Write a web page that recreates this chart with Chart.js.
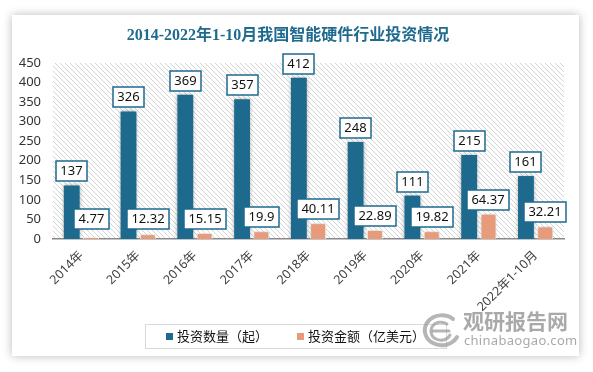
<!DOCTYPE html>
<html>
<head>
<meta charset="utf-8">
<script src="https://cdn.jsdelivr.net/npm/chart.js@4.4.0/dist/chart.umd.min.js"></script>
<style>
body{margin:0;background:#fff;width:593px;height:372px;overflow:hidden}
#card{position:absolute;left:12px;top:15px;width:567px;height:341px;background:#fff;box-shadow:0 0 9px rgba(0,0,0,0.28)}
#chart{position:absolute;left:0;top:0}
.wm{position:absolute;color:rgba(140,140,140,0.75);font-family:"Noto Sans CJK SC",sans-serif;white-space:nowrap}
#wm1{left:451px;top:295px;font-size:21px;line-height:21px;font-weight:bold;letter-spacing:0}
#wm2{left:452px;top:318px;font-size:13px;line-height:14px;font-family:"Noto Sans",sans-serif;letter-spacing:0.3px}
#logo{position:absolute;left:407px;top:296px}
</style>
</head>
<body>
<div id="card">
<canvas id="chart" width="567" height="341"></canvas>
<svg id="logo" width="44" height="40" viewBox="0 0 44 40">
<g fill="none" stroke="rgba(150,150,150,0.7)" stroke-linecap="round">
<path d="M34 8 A17 15 0 1 0 38 26" stroke-width="4"/>
<path d="M28 13 A10 9 0 1 0 31 24" stroke-width="3"/>
<path d="M14 20 L30 20" stroke-width="3"/>
</g>
</svg>
<div class="wm" id="wm1">观研报告网</div>
<div class="wm" id="wm2">chinabaogao.com</div>
</div>
<script>
const years=["2014年","2015年","2016年","2017年","2018年","2019年","2020年","2021年","2022年1-10月"];
const dealCount=[137,326,369,357,412,248,111,215,161];
const dealAmount=[4.77,12.32,15.15,19.9,40.11,22.89,19.82,64.37,32.21];
const seriesNames=["投资数量（起）","投资金额（亿美元）"];
const chartTitle="2014-2022年1-10月我国智能硬件行业投资情况";

Chart.defaults.font.family="'Noto Sans','Noto Sans CJK SC',sans-serif";

// diagonal hatch behind the bars
function hatch(){
    const c=document.createElement("canvas");
    c.width=5;c.height=5;
    const g=c.getContext("2d");
    g.strokeStyle="#d4d4d4";g.lineWidth=1;
    g.beginPath();
    g.moveTo(-1,-1);g.lineTo(6,6);
    g.moveTo(-1,4);g.lineTo(1,6);
    g.moveTo(4,-1);g.lineTo(6,1);
    g.stroke();
    return g.createPattern(c,"repeat");
}

const bgPlugin={id:"bg",beforeDraw(chart){
    const a=chart.chartArea,ctx=chart.ctx;
    ctx.save();
    ctx.fillStyle=hatch();
    ctx.fillRect(a.left,a.top,a.right-a.left,a.bottom-a.top);
    ctx.restore();
}};

const labelPlugin={id:"boxLabels",
    beforeDatasetsDraw(chart){
        const ctx=chart.ctx;
        ctx.save();
        ctx.shadowColor="rgba(0,0,0,0.3)";
        ctx.shadowBlur=4;
    },
    afterDatasetsDraw(chart){
        const ctx=chart.ctx;
        ctx.restore();
        ctx.save();
        ctx.font="13px 'Noto Sans'";
        ctx.textAlign="center";
        ctx.textBaseline="middle";
        const floor=chart.chartArea.bottom-10;
        chart.data.datasets.forEach((ds,i)=>{
            chart.getDatasetMeta(i).data.forEach((bar,j)=>{
                const txt=String(ds.data[j]);
                const w=Math.round(ctx.measureText(txt).width+9),h=20;
                const bottom=Math.round(Math.min(bar.y-4,floor));
                const left=Math.round(bar.x-w/2);
                ctx.fillStyle="#fff";
                ctx.fillRect(left,bottom-h,w,h);
                ctx.strokeStyle="#1d6a8e";
                ctx.lineWidth=1.5;
                ctx.strokeRect(left,bottom-h,w,h);
                ctx.fillStyle="#111";
                ctx.fillText(txt,left+w/2,bottom-h/2+0.5);
            });
        });
        ctx.restore();
    }
};

const legendPlugin={id:"boxLegend",afterDraw(chart){
    const ctx=chart.ctx,sets=chart.data.datasets;
    ctx.save();
    ctx.font="13px 'Noto Sans CJK SC'";
    const mk=7,gap=4,itemGap=29,pad=21,boxH=24,top=309;
    const widths=sets.map(d=>ctx.measureText(d.label).width);
    let total=itemGap*(sets.length-1);
    widths.forEach(w=>total+=mk+gap+w);
    const boxW=Math.round(total+pad*2);
    const left=Math.round((chart.width-boxW)/2);
    ctx.strokeStyle="#d9d9d9";ctx.lineWidth=1;
    ctx.strokeRect(left+0.5,top+0.5,boxW,boxH);
    let x=left+pad;const cy=top+boxH/2+0.5;
    ctx.textBaseline="middle";ctx.textAlign="left";
    sets.forEach((d,i)=>{
        ctx.fillStyle=d.backgroundColor;
        ctx.fillRect(x,Math.round(cy-mk/2),mk,mk);
        ctx.fillStyle="#111";
        ctx.fillText(d.label,x+mk+gap,cy);
        x+=mk+gap+widths[i]+itemGap;
    });
    ctx.restore();
}};

new Chart(document.getElementById("chart"),{
    type:"bar",
    data:{labels:years,datasets:[
        {label:seriesNames[0],data:dealCount,backgroundColor:"#1d6a8e",borderWidth:0,categoryPercentage:0.68,barPercentage:0.82},
        {label:seriesNames[1],data:dealAmount,backgroundColor:"#e89b7b",borderColor:"#fff",borderWidth:1,categoryPercentage:0.68,barPercentage:0.82}
    ]},
    options:{
        responsive:false,animation:false,
        layout:{padding:{left:0,right:15,top:0,bottom:0}},
        plugins:{
            legend:{display:false},tooltip:{enabled:false},
            title:{display:true,text:chartTitle,color:"#1f6b8f",
                font:{size:16,weight:"bold",family:"'Liberation Serif','Noto Sans CJK SC',serif"},
                padding:{top:11,bottom:17.8}}
        },
        scales:{
            x:{grid:{display:false,drawTicks:false},border:{display:true,color:"#8a8a8a",width:1.5},
                ticks:{color:"#404040",font:{size:12.5},minRotation:45,maxRotation:45,padding:9},
                afterFit(s){s.height=117}},
            y:{min:0,max:450,grid:{display:false,drawTicks:false},border:{display:false},
                ticks:{stepSize:50,color:"#333",font:{size:13},padding:12},
                afterFit(s){s.width=41}}
        }
    },
    plugins:[bgPlugin,labelPlugin,legendPlugin]
});
</script>
</body>
</html>
